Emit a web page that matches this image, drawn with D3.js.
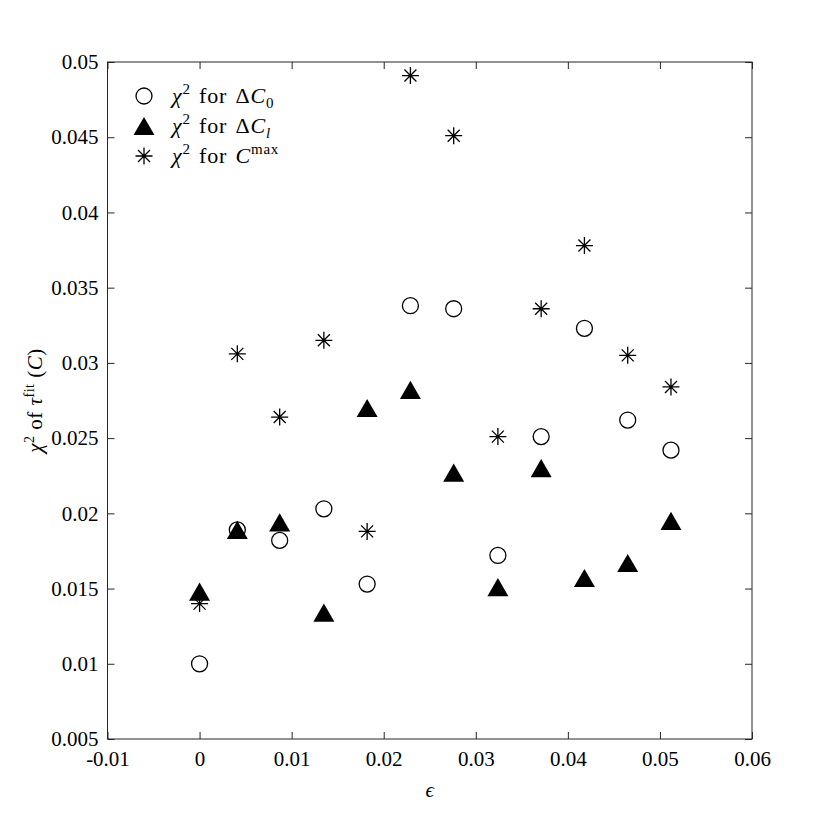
<!DOCTYPE html>
<html>
<head>
<meta charset="utf-8">
<script src="https://d3js.org/d3.v7.min.js"></script>
<style>
  body { margin: 0; background: #fff; }
  svg text { font-family: "Liberation Serif", "DejaVu Serif", serif; fill: #000; }
</style>
</head>
<body>
<svg id="chart" width="830" height="830"></svg>
<script>
// eps values (x)
let epsValues = [0, 0.0041, 0.0087, 0.0135, 0.0182, 0.0229, 0.0276, 0.0324, 0.0371, 0.0418, 0.0465, 0.0512]
// chi^2 for delta C_0 (circles)
let chiC0 = [0.0100, 0.0189, 0.0182, 0.0203, 0.0153, 0.0338, 0.0336, 0.0172, 0.0251, 0.0323, 0.0262, 0.0242]
// chi^2 for delta C_l (triangles)
let chiCl = [0.0148, 0.0189, 0.0194, 0.0134, 0.0270, 0.0282, 0.0227, 0.0151, 0.0230, 0.0157, 0.0167, 0.0195]
// chi^2 for C max (asterisks)
let chiCmax = [0.0140, 0.0306, 0.0264, 0.0315, 0.0188, 0.0491, 0.0451, 0.0251, 0.0336, 0.0378, 0.0305, 0.0284]

let xTicks = [-0.01, 0, 0.01, 0.02, 0.03, 0.04, 0.05, 0.06]
let yTicks = [0.005, 0.01, 0.015, 0.02, 0.025, 0.03, 0.035, 0.04, 0.045, 0.05]

let plotL = 107.5, plotR = 752, plotT = 62, plotB = 739
let axisColor = '#262626'

let svg = d3.select('svg#chart')

let x = d3.scaleLinear().domain([-0.01, 0.06]).range([plotL, plotR])
let y = d3.scaleLinear().domain([0.005, 0.05]).range([plotB, plotT])

// axes, ticks pointing inward
function styleAxis(g) {
    g.select('.domain').remove()
    g.selectAll('.tick line').attr('stroke', axisColor)
    g.selectAll('.tick text').attr('font-size', 21).attr('font-family', '"Liberation Serif", serif').attr('fill', '#000')
}

svg.append('g')
    .attr('transform', `translate(0,${plotB})`)
    .call(d3.axisBottom(x).tickValues(xTicks).tickFormat(d => String(d)).tickSize(-7).tickPadding(12))
    .call(styleAxis)

svg.append('g')
    .attr('transform', `translate(0,${plotT})`)
    .call(d3.axisTop(x).tickValues(xTicks).tickFormat('').tickSize(-7))
    .call(styleAxis)

svg.append('g')
    .attr('transform', `translate(${plotL},0)`)
    .call(d3.axisLeft(y).tickValues(yTicks).tickFormat(d => String(d)).tickSize(-7).tickPadding(9))
    .call(styleAxis)

svg.append('g')
    .attr('transform', `translate(${plotR},0)`)
    .call(d3.axisRight(y).tickValues(yTicks).tickFormat('').tickSize(-7))
    .call(styleAxis)

// box
svg.append('rect')
    .attr('x', plotL).attr('y', plotT)
    .attr('width', plotR - plotL).attr('height', plotB - plotT)
    .attr('fill', 'none').attr('stroke', axisColor).attr('stroke-width', 1)

// marker shapes
let triPath = 'M0,-9.1L10.5,9.1L-10.5,9.1Z'
let starPath = 'M0,-8.5V8.5M-8.5,0H8.5M-6,-6L6,6M-6,6L6,-6'

let marks = svg.append('g')

marks.selectAll('circle.c0')
    .data(epsValues)
    .enter()
    .append('circle')
    .attr('class', 'c0')
    .attr('cx', d => x(d))
    .attr('cy', (d, i) => y(chiC0[i]))
    .attr('r', 8)
    .attr('fill', 'none')
    .attr('stroke', '#000')
    .attr('stroke-width', 1.3)

marks.selectAll('path.tri')
    .data(epsValues)
    .enter()
    .append('path')
    .attr('class', 'tri')
    .attr('d', triPath)
    .attr('transform', (d, i) => `translate(${x(d)},${y(chiCl[i])})`)
    .attr('fill', '#000')

marks.selectAll('path.star')
    .data(epsValues)
    .enter()
    .append('path')
    .attr('class', 'star')
    .attr('d', starPath)
    .attr('transform', (d, i) => `translate(${x(d)},${y(chiCmax[i])})`)
    .attr('fill', 'none')
    .attr('stroke', '#000')
    .attr('stroke-width', 1.3)

// legend
let legend = svg.append('g')
let legX = 144, textX = 172
let rows = [96, 126, 156]

legend.append('circle')
    .attr('cx', legX).attr('cy', rows[0]).attr('r', 8)
    .attr('fill', 'none').attr('stroke', '#000').attr('stroke-width', 1.3)
legend.append('path')
    .attr('d', triPath).attr('transform', `translate(${legX},${rows[1]})`).attr('fill', '#000')
legend.append('path')
    .attr('d', starPath).attr('transform', `translate(${legX},${rows[2]})`)
    .attr('fill', 'none').attr('stroke', '#000').attr('stroke-width', 1.3)

function legendLabel(row, parts) {
    let t = legend.append('text')
        .attr('x', textX).attr('y', row + 7)
        .attr('font-size', 22)
        .attr('letter-spacing', 0.8)
        .attr('word-spacing', 2)
    for (let p of parts) {
        let s = t.append('tspan').text(p.text)
        if (p.italic) s.attr('font-style', 'italic')
        if (p.sup) s.attr('font-size', 15).attr('dy', -9)
        if (p.sub) s.attr('font-size', 15).attr('dy', 5)
        if (p.back) s.attr('dy', p.back)
    }
}

legendLabel(rows[0], [
    {text: 'χ', italic: true}, {text: '2', sup: true},
    {text: ' for Δ', back: 9}, {text: 'C', italic: true}, {text: '0', sub: true}
])
legendLabel(rows[1], [
    {text: 'χ', italic: true}, {text: '2', sup: true},
    {text: ' for Δ', back: 9}, {text: 'C', italic: true}, {text: 'l', sub: true, italic: true}
])
legendLabel(rows[2], [
    {text: 'χ', italic: true}, {text: '2', sup: true},
    {text: ' for ', back: 9}, {text: 'C', italic: true}, {text: 'max', sup: true}
])

// axis titles
svg.append('text')
    .attr('x', (plotL + plotR) / 2).attr('y', 797)
    .attr('text-anchor', 'middle')
    .attr('font-size', 21)
    .attr('font-style', 'italic')
    .text('ϵ')

let yt = svg.append('text')
    .attr('transform', `translate(42,${(plotT + plotB) / 2}) rotate(-90)`)
    .attr('text-anchor', 'middle')
    .attr('font-size', 21)
    .attr('letter-spacing', 0.5)
yt.append('tspan').attr('font-style', 'italic').text('χ')
yt.append('tspan').attr('font-size', 14).attr('dy', -8).text('2')
yt.append('tspan').attr('dy', 8).text(' of ')
yt.append('tspan').attr('font-style', 'italic').text('τ')
yt.append('tspan').attr('font-size', 14).attr('dy', -8).text('fit')
yt.append('tspan').attr('dy', 8).text(' (')
yt.append('tspan').attr('font-style', 'italic').text('C')
yt.append('tspan').text(')')
</script>
</body>
</html>
